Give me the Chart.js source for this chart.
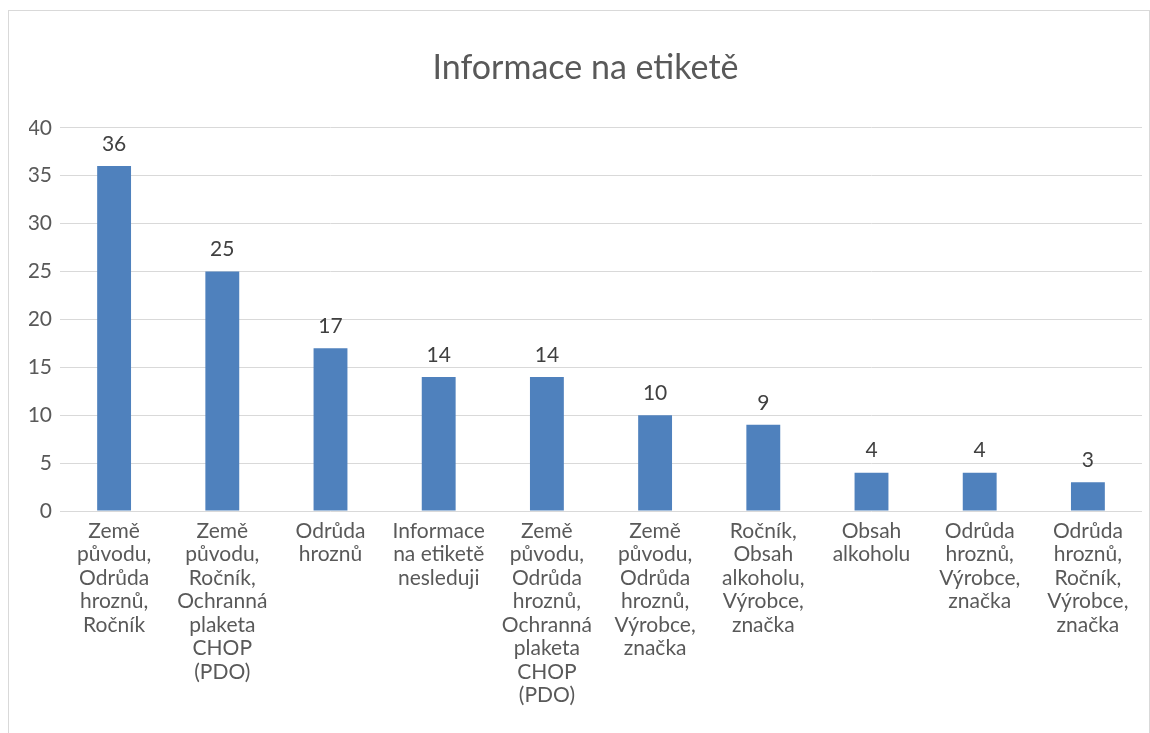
<!DOCTYPE html>
<html>
<head>
<meta charset="utf-8">
<script src="https://cdn.jsdelivr.net/npm/chart.js@4/dist/chart.umd.min.js"></script>
<style>
  body { margin: 0; background: #fff; }
  #box { position: absolute; left: 8px; top: 10px; width: 1140px; height: 740px; border: 1px solid #d9d9d9; }
</style>
</head>
<body>
<div id="box"><canvas id="myChart"></canvas></div>
<script>
// data
let labels = [
    ["Země", "původu,", "Odrůda", "hroznů,", "Ročník"],
    ["Země", "původu,", "Ročník,", "Ochranná", "plaketa", "CHOP", "(PDO)"],
    ["Odrůda", "hroznů"],
    ["Informace", "na etiketě", "nesleduji"],
    ["Země", "původu,", "Odrůda", "hroznů,", "Ochranná", "plaketa", "CHOP", "(PDO)"],
    ["Země", "původu,", "Odrůda", "hroznů,", "Výrobce,", "značka"],
    ["Ročník,", "Obsah", "alkoholu,", "Výrobce,", "značka"],
    ["Obsah", "alkoholu"],
    ["Odrůda", "hroznů,", "Výrobce,", "značka"],
    ["Odrůda", "hroznů,", "Ročník,", "Výrobce,", "značka"]
];
let counts = [36, 25, 17, 14, 14, 10, 9, 4, 4, 3];
let yTicks = [0, 5, 10, 15, 20, 25, 30, 35, 40];

let font = "Lato, 'Open Sans', sans-serif";

// numbers above the bars
let barLabels = {
    id: "barLabels",
    afterDatasetsDraw(chart) {
        let ctx = chart.ctx;
        let meta = chart.getDatasetMeta(0);
        ctx.save();
        ctx.font = "21px " + font;
        ctx.fillStyle = "#404040";
        ctx.textAlign = "center";
        ctx.textBaseline = "middle";
        meta.data.forEach((bar, i) => {
            ctx.fillText(counts[i], bar.x, bar.y - 22);
        });
        ctx.restore();
    }
};

let ctx = document.getElementById("myChart").getContext("2d");
ctx.canvas.width = 1140;
ctx.canvas.height = 740;

let chart = new Chart(ctx, {
    type: "bar",
    data: {
        labels: labels,
        datasets: [{
            data: counts,
            backgroundColor: "#4F81BD",
            barPercentage: 0.62,
            categoryPercentage: 0.505
        }]
    },
    options: {
        responsive: false,
        animation: false,
        layout: { padding: { left: 20, right: 7, top: 0, bottom: 0 } },
        plugins: {
            legend: { display: false },
            tooltip: { enabled: false },
            title: {
                display: true,
                text: "Informace na etiketě",
                color: "#595959",
                font: { family: font, size: 34, weight: "normal" },
                padding: { top: 37, bottom: 39 }
            }
        },
        scales: {
            x: {
                grid: { display: false },
                border: { display: false },
                ticks: {
                    color: "#595959",
                    font: { family: font, size: 21, lineHeight: 1.12 },
                    maxRotation: 0,
                    autoSkip: false,
                    padding: 0
                },
                afterFit(scale) { scale.height = 240; }
            },
            y: {
                min: 0,
                max: 40,
                afterBuildTicks(scale) { scale.ticks = yTicks.map(v => ({ value: v })); },
                grid: { color: "#d9d9d9", lineWidth: 1, drawTicks: false },
                border: { display: false },
                ticks: {
                    color: "#595959",
                    font: { family: font, size: 21 },
                    padding: 8
                },
                afterFit(scale) { scale.width = 31; }
            }
        }
    },
    plugins: [barLabels]
});
</script>
</body>
</html>
